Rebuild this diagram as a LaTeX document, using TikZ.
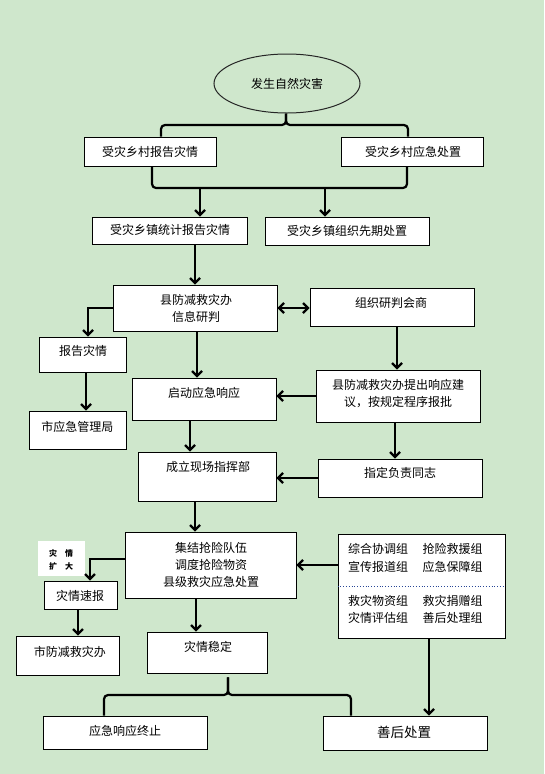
\documentclass[tikz,border=0pt]{standalone}
\usepackage{fontspec}
\setmainfont{Noto Sans CJK SC}
\usetikzlibrary{arrows.meta,shapes.geometric,calc}
\definecolor{bg}{RGB}{207,231,204}
\definecolor{dotblue}{RGB}{40,70,150}
\begin{document}
\begin{tikzpicture}[x=1pt,y=-1pt,
  box/.style={draw=black,fill=white,line width=0.9pt,rectangle,inner sep=0pt},
  txt/.style={inner sep=0pt,font=\fontsize{12}{17}\selectfont,align=center},
  arr/.style={line width=2.2pt,-{Straight Barb[length=5pt,width=10pt]}},
  dbl/.style={line width=2.2pt,{Straight Barb[length=5pt,width=10pt]}-{Straight Barb[length=5pt,width=10pt]}},
  brace/.style={line width=2.2pt,rounded corners=4pt}]
\fill[bg] (0,0) rectangle (544,774);
\useasboundingbox (0,0) rectangle (544,774);

% ellipse
\node[ellipse,draw=black!85,line width=1pt,minimum width=146pt,minimum height=59pt,inner sep=0pt,font=\fontsize{12}{17}\selectfont] (e0) at (287,83.5) {发生自然灾害};

% boxes
\node[box,minimum width=132pt,minimum height=29pt] (b1) at (150,151.5) {};
\node[txt] (t1) at (150,152) {受灾乡村报告灾情};
\node[box,minimum width=142pt,minimum height=29pt] (b2) at (412,151.5) {};
\node[txt] (t2) at (413,152) {受灾乡村应急处置};
\node[box,minimum width=155pt,minimum height=27pt] (b3) at (169.5,230.5) {};
\node[txt] (t3) at (170,230) {受灾乡镇统计报告灾情};
\node[box,minimum width=164pt,minimum height=28pt] (b4) at (347,231) {};
\node[txt] (t4) at (347,231) {受灾乡镇组织先期处置};

\node[box,minimum width=164pt,minimum height=46pt] (b5) at (195,308) {};
\node[txt] (t5) at (196,308.5) {县防减救灾办\\信息研判};
\node[box,minimum width=164pt,minimum height=38pt] (b6) at (392,307) {};
\node[txt] (t6) at (391,303) {组织研判会商};
\node[box,minimum width=87pt,minimum height=35pt] (b7) at (82.5,354.5) {};
\node[txt] (t7) at (83,351) {报告灾情};
\node[box,minimum width=97pt,minimum height=38pt] (b8) at (77.5,430) {};
\node[txt] (t8) at (77.5,427) {市应急管理局};
\node[box,minimum width=144pt,minimum height=42pt] (b9) at (204,399) {};
\node[txt] (t9) at (204,393) {启动应急响应};
\node[box,minimum width=164pt,minimum height=52pt] (b10) at (398,396) {};
\node[txt] (t10) at (398,393.5) {县防减救灾办提出响应建\\议，按规定程序报批};
\node[box,minimum width=138pt,minimum height=49pt] (b11) at (207,476.5) {};
\node[txt] (t11) at (208,467) {成立现场指挥部};
\node[box,minimum width=164pt,minimum height=38pt] (b12) at (400,478) {};
\node[txt] (t12) at (400,473) {指定负责同志};

\node[box,minimum width=171pt,minimum height=66pt] (b13) at (210.5,565) {};
\node[txt] (t13) at (211,564.5) {集结抢险队伍\\调度抢险物资\\县级救灾应急处置};
\node[box,minimum width=167pt,minimum height=104pt] (b14) at (421.5,586) {};
\node[txt,anchor=west] (g1) at (348,549) {综合协调组\hspace{1.2em}抢险救援组};
\node[txt,anchor=west] (g2) at (348,567) {宣传报道组\hspace{1.2em}应急保障组};
\node[txt,anchor=west] (g3) at (348,601) {救灾物资组\hspace{1.2em}救灾捐赠组};
\node[txt,anchor=west] (g4) at (348,618) {灾情评估组\hspace{1.2em}善后处理组};
\draw[dotblue,dotted,line width=0.8pt] (b14.west) -- (b14.east);

\node[fill=white,minimum width=47pt,minimum height=35pt,inner sep=0pt] (lab) at (61.5,558.5) {};
\node[inner sep=0pt,font=\fontsize{8}{13}\selectfont\bfseries,align=left] (tlab) at (61,559.5) {灾\hspace{8pt}情\\扩\hspace{8pt}大};

\node[box,minimum width=73pt,minimum height=28pt] (b15) at (80.5,595) {};
\node[txt] (t15) at (80,596) {灾情速报};
\node[box,minimum width=103pt,minimum height=39pt] (b16) at (67.5,655.5) {};
\node[txt] (t16) at (70,652) {市防减救灾办};
\node[box,minimum width=120pt,minimum height=41pt] (b17) at (207,652.5) {};
\node[txt] (t17) at (208,647) {灾情稳定};
\node[box,minimum width=164pt,minimum height=33pt] (b18) at (125,732.5) {};
\node[txt] (t18) at (125,731) {应急响应终止};
\node[box,minimum width=164pt,minimum height=34pt] (b19) at (405,733) {};
\node[txt,font=\fontsize{13.5}{17}\selectfont] (t19) at (404,732) {善后处置};

% top brace
\coordinate (j0) at (286,125);
\draw[brace] ([xshift=11pt]b1.north) |- (j0) -- (j0 |- e0.south);
\draw[brace] ([xshift=-4pt]b2.north) |- (j0) -- (j0 |- e0.south);

% lower bracket
\coordinate (j1) at (200,188);
\coordinate (j2) at (325,188);
\draw[brace] ([xshift=2pt]b1.south) |- ([xshift=-5pt]b2.south |- j1) -- ([xshift=-5pt]b2.south);
\draw[arr] (j1) -- (j1 |- b3.north);
\draw[arr] (j2) -- (j2 |- b4.north);

% main flow
\draw[arr] (b5.north |- b3.south) -- (b5.north);
\draw[dbl] (b5.east) -- (b5.east -| b6.west);
\draw[arr] (b5.west) -| ([xshift=5.5pt]b7.north);
\draw[arr] ([xshift=3.5pt]b7.south) -- ([xshift=3.5pt]b7.south |- b8.north);
\draw[arr] ([xshift=2pt]b5.south) -- ([xshift=2pt]b5.south |- b9.north);
\draw[arr] ([xshift=5pt]b6.south) -- ([xshift=5pt]b6.south |- b10.north);
\draw[arr] (b10.west) -- (b10.west -| b9.east);
\draw[arr] ([xshift=-14pt]b9.south) -- ([xshift=-14pt]b9.south |- b11.north);
\draw[arr] ([xshift=-3pt]b10.south) -- ([xshift=-3pt]b10.south |- b12.north);
\draw[arr] (b12.west) -- (b12.west -| b11.east);
\draw[arr] ([xshift=-12pt]b11.south) -- ([xshift=-12pt]b11.south |- b13.north);
\draw[arr] (b14.west |- b13.east) -- (b13.east);
\draw[arr] ([yshift=6pt]b13.west) -| ([xshift=9.5pt]b15.north);
\draw[arr] ([xshift=-2.5pt]b15.south) -- ([xshift=-2.5pt]b15.south |- b16.north);
\draw[arr] ([xshift=-14.5pt]b13.south) -- ([xshift=-14.5pt]b13.south |- b17.north);
\draw[arr] ([xshift=7.5pt]b14.south) -- ([xshift=7.5pt]b14.south |- b19.north);

% bottom brace
\coordinate (j3) at (228,695);
\draw[brace] ([xshift=-21pt]b18.north) |- (j3) -- ([yshift=-4pt]j3 |- b17.south);
\draw[brace] ([xshift=-54pt]b19.north) |- (j3) -- ([yshift=-4pt]j3 |- b17.south);
\end{tikzpicture}
\end{document}
